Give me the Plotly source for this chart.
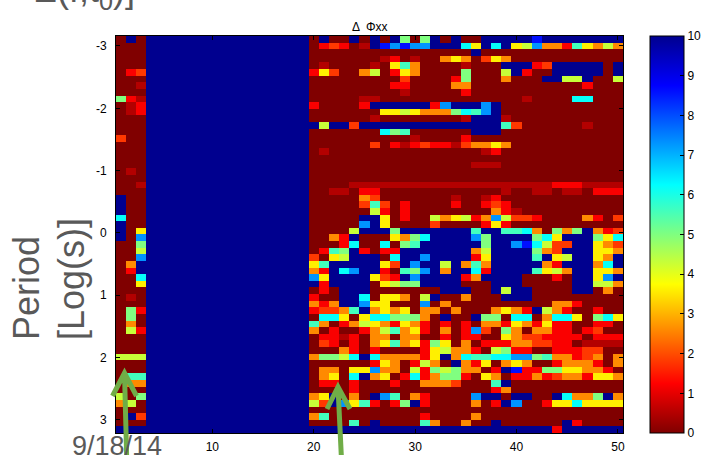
import numpy as np
import plotly.graph_objects as go

# ---- data -----------------------------------------------------------------
# colour codes -> values (0 = dark red ... 10 = dark blue)
codes = {'0': 0.0, '1': 0.5, 'r': 1.2, 'o': 1.8, 'O': 2.6, 'y': 3.6, 'g': 4.3,
         'l': 5.0, 'a': 5.6, 'c': 6.2, 's': 7.3, 'b': 8.6, 'B': 10.0}

days = list(range(1, 51))                      # 50 columns
n_rows = 60
periods = list(np.linspace(-3.107, 3.157, n_rows))   # log10 period row centres

# columns 1-3
left_cols = [
    "0B0", "000", "000", "000", "000", "0ro", "000", "001", "000", "lr1",
    "01r", "01r", "000", "000", "000", "o00", "000", "000", "000", "000",
    "010", "000", "001", "000", "B00", "B00", "B00", "c00", "B00", "B0y",
    "B0s", "00l", "00g", "00s", "0OB", "0rB", "00c", "00y", "000", "010",
    "000", "0lr", "0l0", "0O0", "0gr", "000", "000", "000", "ggg", "000",
    "000", "0aa", "0OO", "000", "g0l", "Og0", "000", "0Bo", "000", "BBB",
]
# columns 4-19 (no data, saturated)
quiet_cols = "BBBBBBBBBBBBBBBB"
# columns 20-50
right_cols = [
    "0B00B0B0Bl0lB0B00BBBBBbBBBBBBBB",
    "0ror01BbsbssBBBcyBcBygsOOrayOgO",
    "0000000000000000B00000000000000",
    "00000001r0100OyO0oyO00000000000",
    "01000010yaO00001000BBBroBBBBB0B",
    "ryo00Og0ryO0000l000gBr00BBBBB0B",
    "000000000o0000rl000O000BBggB00g",
    "00000000rr0000OO00000000000r000",
    "000000000100000r000000000000000",
    "00000110000000000000010000cc000",
    "r0000rBBBBBBrsBBBsB000000000000",
    "0000000yygyOOOlcasB000000000000",
    "0000001000000001BBB100000000000",
    "BgBBoBBBBBBBBBBBBBBao0000001000",
    "0000000cla000000BBB000000000000",
    "000000000010000r000000000000000",
    "000000o0r1rorr1oOOyO00000000000",
    "010000000000000001r000000000000",
    "0000000000000000000000000000000",
    "0000000000000000111000000000000",
    "0000000000000000000000000000000",
    "0000000000000000000000000000000",
    "000011111111111111111111rrr1111",
    "00110rr000000000000100110110rrr",
    "00000Oo00000001001r000000000000",
    "00000oao0r0000r00ror00000000000",
    "000000gr0r00000000Or10000000000",
    "00000BBy0r00gOygrOsgoor0000Or0o",
    "00000sBy0000o0000ryr00000000000",
    "0000gBBBlBBBBBBBaBBaacO0lOlBOro",
    "00OrB000yOlcBBBBslBBBBlcyBBBlyc",
    "000rc00c0laBBBBBBlBBsbcgooBByOo",
    "0ralBr0rrBBBBBBBOgBBBBlOoBBByyO",
    "o0ygBBB0cBBsBBBBryBBBBaBygBByOB",
    "yaBBBBByoBsBBgBOaOBBBBBOrBBBOcB",
    "OrBcsBBr0alsBOBBcrBBBBaygOBByyO",
    "syBBBByorBsBBBBrOBBBB000r0BBysB",
    "BrBBBB0ygllBBBB000BBB00000BBggO",
    "0r0BBB0000000BBB00BgBB0000BB0O0",
    "r00BBc0yyO0gB00O000BBB000000000",
    "OrOBBsyy000s0O0000000000OOr0000",
    "rooOaBOyOy0OO0O000OyOrBgOr00r00",
    "0ccy0ycclllO0B00Bll0cc0Occy0lcy",
    "aO0rOgyOryOr0r0r0OOryOryrr00rr0",
    "O0r00rOgaOyr0O0rso0lO0OOrr0ro00",
    "0rr1r0OO0OO00r0rr00yOoorrrr0rrr",
    "0or0r0OyaOyrly0O0rrrOOoorr01111",
    "000Or0r0000rygOOr0glrr00rrroo00",
    "OllgcBcOOOOryBOcaaccsslaOOroO0O",
    "000000ryO0rgO0BOry0OyO00rOOOr0O",
    "0OO0yysOO0grlglOO0rBbrrllyyOOr0",
    "0Oy0cBOy0rcrOllr0yO0rrOroOOryyO",
    "0rr0r000r00OOOo000aB00000000000",
    "0000r0000000000000rO00000000000",
    "OyB0O0Bsa0Or0000sBB0BB00BcOOlBO",
    "goBsyar0rlBr0000O0rBs00ryycyyyy",
    "0000000000000000000000000000000",
    "Oa000000000r0000O00000000000000",
    "0000a0B0000aO00O00B000000Br0000",
    "BBBBBBBBBBBBBBBBBBBBBBBBrBBBBBB",
]

colorbar_ticks = list(range(0, 11))
x_ticks = [10, 20, 30, 40, 50]
y_ticks = [-3, -2, -1, 0, 1, 2, 3]

# ---- build matrix ----------------------------------------------------------
assert len(left_cols) == n_rows and len(right_cols) == n_rows
z = []
for i in range(n_rows):
    row = left_cols[i] + quiet_cols + right_cols[i]
    assert len(row) == 50, (i, len(row))
    z.append([codes[ch] for ch in row])

jet_r = [[0.0, 'rgb(128,0,0)'], [0.125, 'rgb(255,0,0)'], [0.375, 'rgb(255,255,0)'],
         [0.625, 'rgb(0,255,255)'], [0.875, 'rgb(0,0,255)'], [1.0, 'rgb(0,0,143)']]

fig = go.Figure(go.Heatmap(
    x=days, y=periods, z=z, zmin=0, zmax=10, colorscale=jet_r,
    zsmooth=False, hoverongaps=False,
    colorbar=dict(
        x=1.053, xanchor='left', y=0.5, yanchor='middle',
        len=1.0, lenmode='fraction', thickness=34, thicknessmode='pixels',
        outlinewidth=1, outlinecolor='black',
        tickvals=colorbar_ticks, ticks='inside', ticklen=4, tickcolor='black',
        tickfont=dict(family='Liberation Sans', size=12, color='black'),
        xpad=0, ypad=0,
    ),
))

axis_common = dict(showline=True, linecolor='black', linewidth=1, mirror='ticks',
                   ticks='inside', ticklen=4, tickcolor='black', showgrid=False,
                   zeroline=False, automargin=False,
                   tickfont=dict(family='Liberation Sans', size=12, color='black'))

fig.update_xaxes(range=[0.5, 50.5], tickvals=x_ticks, ticklabelstandoff=3, **axis_common)
fig.update_yaxes(range=[3.21, -3.16], tickvals=y_ticks, ticktext=[str(v) for v in y_ticks],
                 ticklabelstandoff=6, **axis_common)

gray = '#595959'
W, L, R, T, B = 705, 116, 82, 36, 22
pw, ph = W - L - R, 455 - T - B


def px(xp):
    return (xp - L) / pw


def py(yp):
    return (455 - B - yp) / ph


annotations = [
    dict(text='Δ  Φxx', x=0.5, y=py(27), xref='paper', yref='paper', showarrow=False,
         xanchor='center', yanchor='middle',
         font=dict(family='Liberation Sans', size=12, color='black')),
    dict(text='E(f,t<sub>0</sub>)]', x=px(31), y=py(17), xref='paper', yref='paper',
         showarrow=False, xanchor='left', yanchor='bottom',
         font=dict(family='Liberation Sans', size=36, color=gray)),
    dict(text='Period', x=px(26), y=py(288), xref='paper', yref='paper',
         showarrow=False, xanchor='center', yanchor='middle', textangle=-90,
         font=dict(family='Liberation Sans', size=36, color=gray)),
    dict(text='[Log(s)]', x=px(71), y=py(279), xref='paper', yref='paper',
         showarrow=False, xanchor='center', yanchor='middle', textangle=-90,
         font=dict(family='Liberation Sans', size=36, color=gray)),
    dict(text='9/18/14', x=px(117), y=py(446), xref='paper', yref='paper',
         showarrow=False, xanchor='center', yanchor='middle',
         font=dict(family='Liberation Sans', size=27, color=gray)),
]

green = '#70AD47'
arrows = [
    # (tail, tip, left arm end, right arm end) in pixels
    ((127, 470), (124.5, 373), (112.5, 396), (136.5, 396)),
    ((342, 470), (338, 387), (327, 409), (350, 409)),
]
shapes = []
for tail, tip, a1, a2 in arrows:
    path = (f"M {px(tail[0])},{py(tail[1])} L {px(tip[0])},{py(tip[1])} "
            f"M {px(a1[0])},{py(a1[1])} L {px(tip[0])},{py(tip[1])} L {px(a2[0])},{py(a2[1])}")
    shapes.append(dict(type='path', path=path, xref='paper', yref='paper',
                       line=dict(color=green, width=5), layer='above'))

fig.update_layout(
    width=705, height=455,
    margin=dict(l=L, r=R, t=T, b=B, pad=0, autoexpand=False),
    paper_bgcolor='white', plot_bgcolor='white',
    annotations=annotations, shapes=shapes,
    showlegend=False,
)

fig.write_html(
    "out.html",
    config={'displayModeBar': False},
    post_script="document.body.style.margin='0';document.body.style.overflow='hidden';",
)
